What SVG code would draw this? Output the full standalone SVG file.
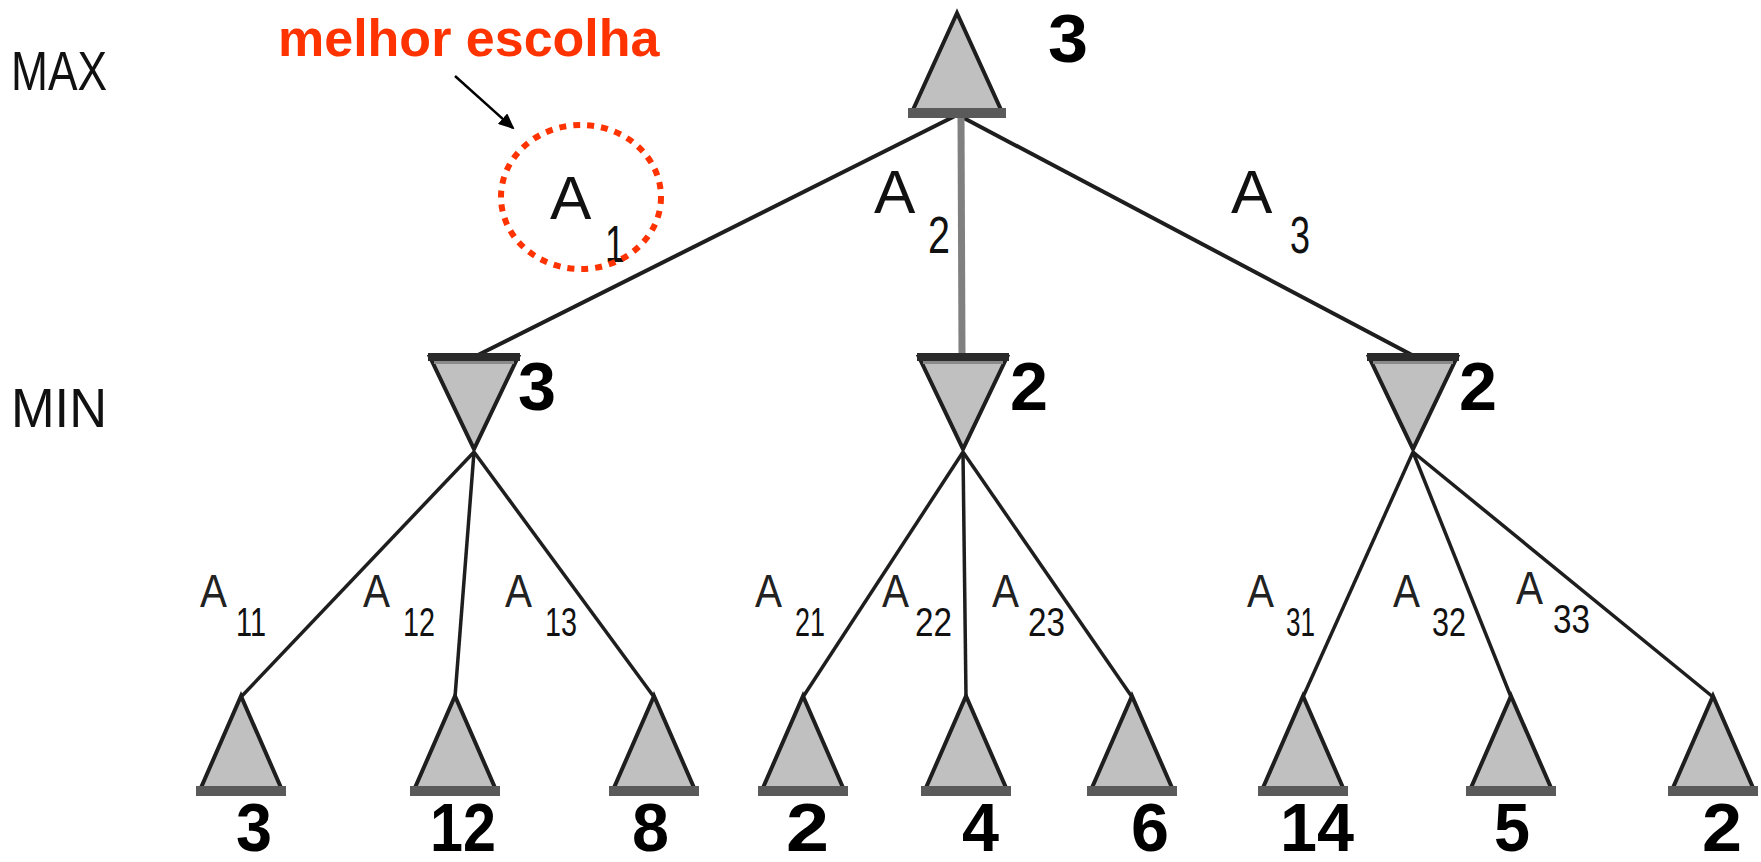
<svg xmlns="http://www.w3.org/2000/svg" width="1761" height="862" viewBox="0 0 1761 862">
<style>
.tri{fill:#c0c0c0;stroke:#1e1e1e;stroke-width:4;stroke-linejoin:miter}
.bar{fill:#5a5a5a}
.edge{stroke:#1e1e1e;stroke-width:4;fill:none}
.leafedge{stroke:#1e1e1e;stroke-width:3.5;fill:none}
.best{stroke:#808080;stroke-width:7;fill:none}
.lvl{font-family:"Liberation Sans",Arial,sans-serif;font-size:56px;fill:#111}
.val{font-family:"Liberation Sans",Arial,sans-serif;font-weight:bold;font-size:68px;fill:#000}
.lab{font-family:"Liberation Sans",Arial,sans-serif;font-size:62px;fill:#111}
.sub{font-family:"Liberation Sans",Arial,sans-serif;font-size:52px;fill:#111}
.elab{font-family:"Liberation Sans",Arial,sans-serif;font-size:46px;fill:#222}
.esub{font-family:"Liberation Sans",Arial,sans-serif;font-size:40px;fill:#111}
.note{font-family:"Liberation Sans",Arial,sans-serif;font-weight:bold;font-size:52px;fill:#ff3300}
</style>
<defs>
<g id="maxTri"><polygon class="tri" points="0,0 45,99 -45,99"/><rect class="bar" x="-49" y="95" width="98" height="10"/></g>
<g id="minTri"><polygon class="tri" points="-44,0 44,0 0,92"/><rect x="-46" y="-4" width="92" height="8" fill="#2a2a2a"/><rect x="-40" y="4" width="80" height="3" fill="#8a8a8a"/></g>
<g id="leafTri"><polygon class="tri" points="0,0 41,94 -41,94"/><rect class="bar" x="-45" y="90" width="90" height="10"/></g>
<marker id="ah" markerWidth="16" markerHeight="14" refX="14" refY="7" orient="auto" markerUnits="userSpaceOnUse"><path d="M0,0 L16,7 L0,14 Z" fill="#000"/></marker>
</defs>

<g id="levels">
<text class="lvl" x="11" y="90" textLength="96" lengthAdjust="spacingAndGlyphs">MAX</text>
<text class="lvl" x="11" y="427" textLength="96" lengthAdjust="spacingAndGlyphs">MIN</text>
</g>

<g id="connectors">
<line class="edge" x1="955" y1="116" x2="478" y2="355"/>
<line class="edge" x1="960" y1="116" x2="1412" y2="355"/>
<line class="best" x1="961" y1="116" x2="962" y2="356"/>
<line class="leafedge" x1="474" y1="452" x2="241" y2="697"/>
<line class="leafedge" x1="474" y1="452" x2="455" y2="697"/>
<line class="leafedge" x1="474" y1="452" x2="654" y2="697"/>
<line class="leafedge" x1="963" y1="452" x2="803" y2="697"/>
<line class="leafedge" x1="963" y1="452" x2="966" y2="697"/>
<line class="leafedge" x1="963" y1="452" x2="1132" y2="697"/>
<line class="leafedge" x1="1413" y1="452" x2="1303" y2="697"/>
<line class="leafedge" x1="1413" y1="452" x2="1511" y2="697"/>
<line class="leafedge" x1="1413" y1="452" x2="1713" y2="697"/>
<line x1="455" y1="76" x2="513" y2="128" stroke="#000" stroke-width="2.5" marker-end="url(#ah)"/>
</g>

<g id="root">
<use href="#maxTri" x="957" y="13"/>
<text class="val" x="1048" y="62" textLength="40" lengthAdjust="spacingAndGlyphs">3</text>
</g>

<g id="min1"><use href="#minTri" x="474" y="357"/><text class="val" x="518" y="410" textLength="38" lengthAdjust="spacingAndGlyphs">3</text></g>
<g id="min2"><use href="#minTri" x="963" y="357"/><text class="val" x="1010" y="410" textLength="38" lengthAdjust="spacingAndGlyphs">2</text></g>
<g id="min3"><use href="#minTri" x="1413" y="357"/><text class="val" x="1459" y="410" textLength="38" lengthAdjust="spacingAndGlyphs">2</text></g>

<g id="leaf1"><use href="#leafTri" x="241" y="696"/><text class="val" x="236" y="851" textLength="36" lengthAdjust="spacingAndGlyphs">3</text></g>
<g id="leaf2"><use href="#leafTri" x="455" y="696"/><text class="val" x="430" y="851" textLength="66" lengthAdjust="spacingAndGlyphs">12</text></g>
<g id="leaf3"><use href="#leafTri" x="654" y="696"/><text class="val" x="632" y="851" textLength="37" lengthAdjust="spacingAndGlyphs">8</text></g>
<g id="leaf4"><use href="#leafTri" x="803" y="696"/><text class="val" x="786" y="851" textLength="43" lengthAdjust="spacingAndGlyphs">2</text></g>
<g id="leaf5"><use href="#leafTri" x="966" y="696"/><text class="val" x="962" y="851" textLength="37" lengthAdjust="spacingAndGlyphs">4</text></g>
<g id="leaf6"><use href="#leafTri" x="1132" y="696"/><text class="val" x="1131" y="851" textLength="38" lengthAdjust="spacingAndGlyphs">6</text></g>
<g id="leaf7"><use href="#leafTri" x="1303" y="696"/><text class="val" x="1280" y="851" textLength="74" lengthAdjust="spacingAndGlyphs">14</text></g>
<g id="leaf8"><use href="#leafTri" x="1511" y="696"/><text class="val" x="1494" y="851" textLength="36" lengthAdjust="spacingAndGlyphs">5</text></g>
<g id="leaf9"><use href="#leafTri" x="1713" y="696"/><text class="val" x="1702" y="851" textLength="40" lengthAdjust="spacingAndGlyphs">2</text></g>

<g id="labels">
<text class="lab" x="550" y="219">A</text><text class="sub" x="605" y="262" textLength="20" lengthAdjust="spacingAndGlyphs">1</text>
<text class="lab" x="874" y="213">A</text><text class="sub" x="928" y="253" textLength="22" lengthAdjust="spacingAndGlyphs">2</text>
<text class="lab" x="1231" y="213">A</text><text class="sub" x="1290" y="253" textLength="20" lengthAdjust="spacingAndGlyphs">3</text>
<text class="elab" x="200" y="607" textLength="27" lengthAdjust="spacingAndGlyphs">A</text><text class="esub" x="236" y="636" textLength="30" lengthAdjust="spacingAndGlyphs">11</text>
<text class="elab" x="363" y="607" textLength="27" lengthAdjust="spacingAndGlyphs">A</text><text class="esub" x="403" y="636" textLength="32" lengthAdjust="spacingAndGlyphs">12</text>
<text class="elab" x="505" y="607" textLength="27" lengthAdjust="spacingAndGlyphs">A</text><text class="esub" x="545" y="636" textLength="32" lengthAdjust="spacingAndGlyphs">13</text>
<text class="elab" x="755" y="607" textLength="27" lengthAdjust="spacingAndGlyphs">A</text><text class="esub" x="795" y="636" textLength="30" lengthAdjust="spacingAndGlyphs">21</text>
<text class="elab" x="882" y="607" textLength="27" lengthAdjust="spacingAndGlyphs">A</text><text class="esub" x="915" y="636" textLength="37" lengthAdjust="spacingAndGlyphs">22</text>
<text class="elab" x="992" y="607" textLength="27" lengthAdjust="spacingAndGlyphs">A</text><text class="esub" x="1028" y="636" textLength="37" lengthAdjust="spacingAndGlyphs">23</text>
<text class="elab" x="1247" y="607" textLength="27" lengthAdjust="spacingAndGlyphs">A</text><text class="esub" x="1286" y="636" textLength="29" lengthAdjust="spacingAndGlyphs">31</text>
<text class="elab" x="1393" y="607" textLength="27" lengthAdjust="spacingAndGlyphs">A</text><text class="esub" x="1432" y="636" textLength="34" lengthAdjust="spacingAndGlyphs">32</text>
<text class="elab" x="1516" y="604" textLength="27" lengthAdjust="spacingAndGlyphs">A</text><text class="esub" x="1553" y="633" textLength="37" lengthAdjust="spacingAndGlyphs">33</text>
</g>

<g id="best-choice">
<text class="note" x="278" y="56">melhor escolha</text>
<ellipse cx="581" cy="197" rx="80" ry="72" fill="none" stroke="#ff3300" stroke-width="6" stroke-dasharray="7 7"/>
</g>
</svg>
